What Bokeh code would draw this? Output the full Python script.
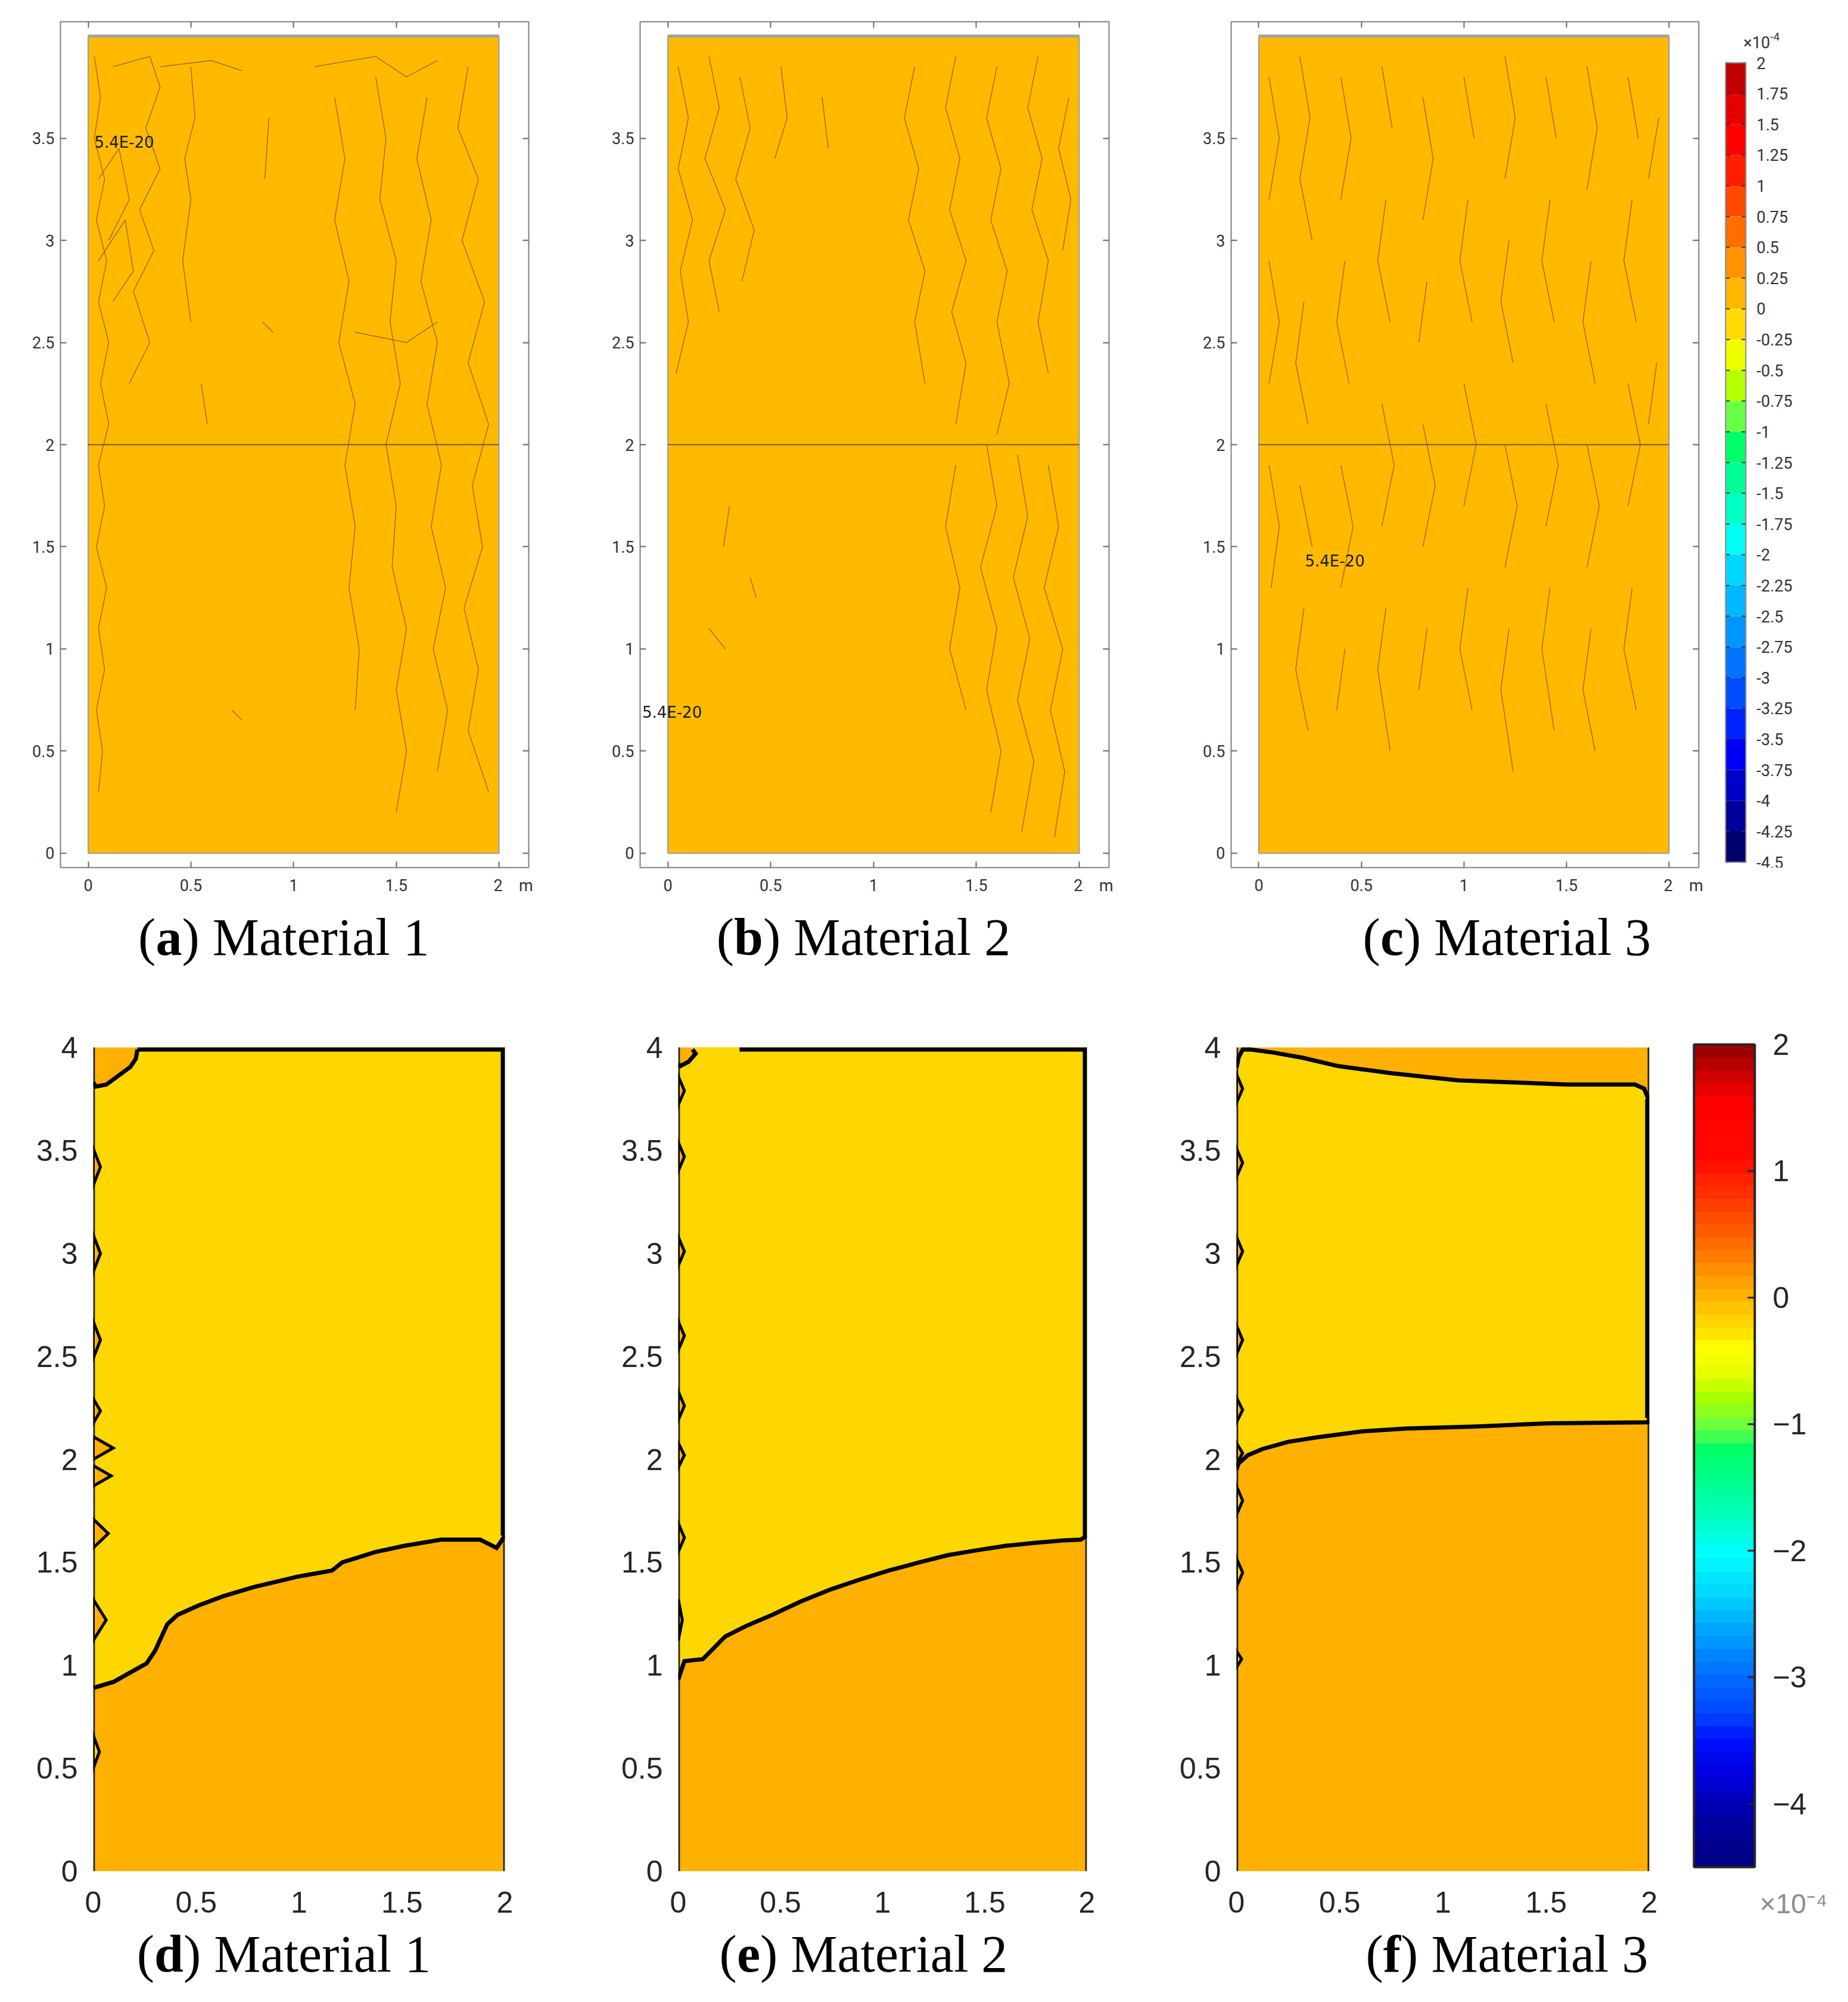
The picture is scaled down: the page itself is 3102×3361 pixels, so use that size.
import numpy as np
from bokeh.plotting import figure
from bokeh.layouts import column, row
from bokeh.models import Range1d, NumeralTickFormatter, CustomJSTickFormatter, LinearAxis, FixedTicker
from bokeh.embed import file_html
from bokeh.resources import INLINE
from bokeh.core.properties import value

# ---------------- data ----------------
x_ticks = [0, 0.5, 1, 1.5, 2]
y_ticks_top = [0, 0.5, 1, 1.5, 2, 2.5, 3, 3.5]
y_ticks_bot = [0, 0.5, 1, 1.5, 2, 2.5, 3, 3.5, 4]
x_unit = "m"
domain_x = [0.0, 2.0]
domain_y = [0.0, 4.0]
interface_y = 2.0

caption_letters_top = ["a", "b", "c"]
caption_letters_bot = ["d", "e", "f"]
caption_names = ["Material 1", "Material 2", "Material 3"]

top_value_text = ["5.4E-20", "5.4E-20", "5.4E-20"]
top_value_x = [0.03, -0.125, 0.225]
top_value_y = [3.48, 0.69, 1.43]

# faint iso-lines of the COMSOL plots (approximate traces)
a_frag = [
    [(0.03, 3.9), (0.06, 3.7), (0.03, 3.5), (0.08, 3.3), (0.04, 3.1), (0.09, 2.9), (0.05, 2.7),
     (0.1, 2.5), (0.06, 2.3), (0.1, 2.1), (0.05, 1.9), (0.08, 1.7), (0.04, 1.5), (0.09, 1.3),
     (0.05, 1.1), (0.08, 0.9), (0.04, 0.7), (0.07, 0.5), (0.05, 0.3)],
    [(0.12, 3.85), (0.3, 3.9), (0.35, 3.75), (0.28, 3.55), (0.35, 3.35), (0.25, 3.15), (0.32, 2.95),
     (0.22, 2.75), (0.3, 2.5), (0.2, 2.3)],
    [(0.05, 3.3), (0.15, 3.45), (0.2, 3.2), (0.1, 3.0)],
    [(0.05, 2.9), (0.18, 3.1), (0.22, 2.85), (0.12, 2.7)],
    [(0.5, 3.85), (0.52, 3.6), (0.47, 3.4), (0.5, 3.2), (0.46, 2.9), (0.5, 2.6)],
    [(0.35, 3.85), (0.6, 3.88), (0.75, 3.83)],
    [(0.88, 3.6), (0.86, 3.3)],
    [(1.1, 3.85), (1.4, 3.9), (1.55, 3.8), (1.7, 3.88)],
    [(1.2, 3.7), (1.25, 3.4), (1.2, 3.1), (1.27, 2.8), (1.22, 2.5), (1.3, 2.2), (1.25, 1.9),
     (1.3, 1.6), (1.27, 1.3), (1.32, 1.0), (1.3, 0.7)],
    [(1.4, 3.8), (1.45, 3.5), (1.42, 3.2), (1.5, 2.9), (1.47, 2.6), (1.52, 2.3), (1.45, 2.0),
     (1.5, 1.7), (1.48, 1.4), (1.55, 1.1), (1.5, 0.8), (1.55, 0.5), (1.5, 0.2)],
    [(1.65, 3.7), (1.6, 3.4), (1.67, 3.1), (1.62, 2.8), (1.7, 2.5), (1.65, 2.2), (1.72, 1.9),
     (1.67, 1.6), (1.74, 1.3), (1.68, 1.0), (1.75, 0.7), (1.7, 0.4)],
    [(1.85, 3.85), (1.8, 3.55), (1.9, 3.3), (1.82, 3.0), (1.93, 2.7), (1.85, 2.4), (1.95, 2.1),
     (1.87, 1.8), (1.92, 1.5), (1.83, 1.2), (1.9, 0.9), (1.85, 0.6), (1.95, 0.3)],
    [(1.3, 2.55), (1.55, 2.5), (1.7, 2.6)],
    [(0.85, 2.6), (0.9, 2.55)],
    [(0.55, 2.3), (0.58, 2.1)],
    [(0.7, 0.7), (0.75, 0.65)],
]
b_frag = [
    [(0.05, 3.85), (0.1, 3.6), (0.05, 3.35), (0.12, 3.1), (0.06, 2.85), (0.1, 2.6), (0.04, 2.35)],
    [(0.2, 3.9), (0.25, 3.65), (0.18, 3.4), (0.28, 3.15), (0.2, 2.9), (0.25, 2.65)],
    [(0.35, 3.8), (0.4, 3.55), (0.33, 3.3), (0.42, 3.05), (0.36, 2.8)],
    [(0.55, 3.85), (0.58, 3.6), (0.52, 3.4)],
    [(0.75, 3.7), (0.78, 3.45)],
    [(1.2, 3.85), (1.15, 3.6), (1.22, 3.35), (1.17, 3.1), (1.25, 2.85), (1.2, 2.6), (1.25, 2.3)],
    [(1.4, 3.9), (1.35, 3.65), (1.42, 3.4), (1.37, 3.15), (1.45, 2.9), (1.38, 2.65), (1.45, 2.4),
     (1.4, 2.1)],
    [(1.6, 3.85), (1.55, 3.6), (1.62, 3.35), (1.57, 3.1), (1.65, 2.85), (1.6, 2.6), (1.66, 2.3),
     (1.6, 2.05)],
    [(1.8, 3.9), (1.75, 3.65), (1.82, 3.4), (1.77, 3.15), (1.85, 2.9), (1.8, 2.6), (1.85, 2.35)],
    [(1.95, 3.7), (1.9, 3.45), (1.96, 3.2), (1.92, 2.95)],
    [(1.4, 1.9), (1.35, 1.6), (1.42, 1.3), (1.37, 1.0), (1.45, 0.7)],
    [(1.55, 2.0), (1.6, 1.7), (1.52, 1.4), (1.6, 1.1), (1.55, 0.8), (1.62, 0.5), (1.57, 0.2)],
    [(1.7, 1.95), (1.75, 1.65), (1.68, 1.35), (1.76, 1.05), (1.7, 0.75), (1.78, 0.45), (1.72, 0.1)],
    [(1.85, 1.9), (1.9, 1.6), (1.83, 1.3), (1.92, 1.0), (1.86, 0.7), (1.93, 0.4), (1.88, 0.08)],
    [(0.3, 1.7), (0.27, 1.5)],
    [(0.2, 1.1), (0.28, 1.0)],
    [(0.4, 1.35), (0.43, 1.25)],
]
c_frag = [
    [(0.05, 3.8), (0.1, 3.5), (0.05, 3.2)], [(0.05, 2.9), (0.1, 2.6), (0.05, 2.3)],
    [(0.05, 1.9), (0.1, 1.6), (0.06, 1.3)],
    [(0.2, 3.9), (0.25, 3.6), (0.2, 3.3), (0.26, 3.0)], [(0.22, 2.7), (0.18, 2.4), (0.24, 2.1)],
    [(0.2, 1.8), (0.26, 1.5)], [(0.22, 1.2), (0.18, 0.9), (0.24, 0.6)],
    [(0.4, 3.8), (0.45, 3.5), (0.4, 3.2)], [(0.42, 2.9), (0.38, 2.6), (0.44, 2.3)],
    [(0.4, 1.9), (0.46, 1.6), (0.4, 1.3)], [(0.42, 1.0), (0.38, 0.7)],
    [(0.6, 3.85), (0.65, 3.55)], [(0.62, 3.2), (0.58, 2.9), (0.64, 2.6)],
    [(0.6, 2.2), (0.66, 1.9), (0.6, 1.6)], [(0.62, 1.2), (0.58, 0.9), (0.64, 0.5)],
    [(0.8, 3.7), (0.85, 3.4), (0.8, 3.1)], [(0.82, 2.8), (0.78, 2.5)],
    [(0.8, 2.1), (0.86, 1.8), (0.8, 1.5)], [(0.82, 1.1), (0.78, 0.8)],
    [(1.0, 3.8), (1.05, 3.5)], [(1.02, 3.2), (0.98, 2.9), (1.04, 2.6)],
    [(1.0, 2.3), (1.06, 2.0), (1.0, 1.7)], [(1.02, 1.3), (0.98, 1.0), (1.04, 0.7)],
    [(1.2, 3.9), (1.25, 3.6), (1.2, 3.3)], [(1.22, 3.0), (1.18, 2.7), (1.24, 2.4)],
    [(1.2, 2.0), (1.26, 1.7), (1.2, 1.4)], [(1.22, 1.1), (1.18, 0.8), (1.24, 0.4)],
    [(1.4, 3.8), (1.45, 3.5)], [(1.42, 3.2), (1.38, 2.9), (1.44, 2.6)],
    [(1.4, 2.2), (1.46, 1.9), (1.4, 1.6)], [(1.42, 1.3), (1.38, 1.0), (1.44, 0.6)],
    [(1.6, 3.85), (1.65, 3.55), (1.6, 3.25)], [(1.62, 2.9), (1.58, 2.6), (1.64, 2.3)],
    [(1.6, 2.0), (1.66, 1.7), (1.6, 1.4)], [(1.62, 1.1), (1.58, 0.8), (1.64, 0.5)],
    [(1.8, 3.8), (1.85, 3.5)], [(1.82, 3.2), (1.78, 2.9), (1.84, 2.6)],
    [(1.8, 2.3), (1.86, 2.0), (1.8, 1.7)], [(1.82, 1.3), (1.78, 1.0), (1.84, 0.7)],
    [(1.95, 3.6), (1.9, 3.3)], [(1.94, 2.4), (1.9, 2.1)],
]

cb_top_levels = [2, 1.75, 1.5, 1.25, 1, 0.75, 0.5, 0.25, 0, -0.25, -0.5, -0.75, -1, -1.25,
                 -1.5, -1.75, -2, -2.25, -2.5, -2.75, -3, -3.25, -3.5, -3.75, -4, -4.25, -4.5]
cb_top_labels = ["2", "1.75", "1.5", "1.25", "1", "0.75", "0.5", "0.25", "0", "-0.25", "-0.5",
                 "-0.75", "-1", "-1.25", "-1.5", "-1.75", "-2", "-2.25", "-2.5", "-2.75", "-3",
                 "-3.25", "-3.5", "-3.75", "-4", "-4.25", "-4.5"]
cb_top_colors = ["#C00000", "#E50000", "#FF0000", "#FF1E00", "#FF4800", "#FF6C00", "#FF9400",
                 "#FFB700", "#FFDA00", "#F0FF00", "#B5FF00", "#6AFF45", "#00FF6A", "#00FF97",
                 "#00FFC5", "#00FFF4", "#00D8FF", "#00B8FF", "#0096FF", "#0074FF", "#004CFF",
                 "#0024FF", "#0000F4", "#0000C8", "#00009A", "#00006E"]

cb_bot_label_vals = [2, 1, 0, -1, -2, -3, -4]
cb_bot_labels = ["2", "1", "0", "\u22121", "\u22122", "\u22123", "\u22124"]
cb_bot_tick_vals = [1, 0, -1, -2, -3, -4]
cb_bot_range = [-4.5, 2.0]
cb_bot_nlevels = 64
cb_bot_anchor_vals = [2.0, 1.55, 1.1, 0.75, 0.5, 0.3, 0.13, 0.0, -0.13, -0.27, -0.4, -0.63, -0.81,
                      -0.95, -1.08, -1.17, -1.48, -1.8, -2.02, -2.33, -2.65, -2.96, -3.27, -3.5,
                      -3.76, -4.12, -4.5]
cb_bot_anchor_cols = ["#900000", "#FF0000", "#FF0800", "#FF3C00", "#FF6000", "#FF8000", "#FFA000",
                      "#FFB400", "#FFCC00", "#FFE000", "#FFFF00", "#E0FF00", "#A0FF00", "#80FF30",
                      "#50FF50", "#00FF60", "#00FF90", "#00FFCC", "#00FFFF", "#00D8FF", "#00A0FF",
                      "#0070FF", "#0048FF", "#0010FF", "#0000E0", "#0000A0", "#000080"]

# (d) Material 1
d_lower_x = [0.0, 0.10, 0.18, 0.26, 0.30, 0.36, 0.41, 0.51, 0.63, 0.78, 0.99, 1.16, 1.21, 1.37,
             1.51, 1.69, 1.88, 1.96, 2.0]
d_lower_y = [0.89, 0.92, 0.965, 1.01, 1.07, 1.20, 1.245, 1.29, 1.335, 1.38, 1.43, 1.46, 1.50, 1.55,
             1.58, 1.61, 1.61, 1.57, 1.63]
d_corner_x = [0.215, 0.207, 0.18, 0.064, 0.013, 0.0]
d_corner_y = [4.0, 3.945, 3.905, 3.82, 3.81, 3.83]
d_bump_y = [3.42, 3.0, 2.58, 2.235, 2.055, 1.92, 1.64, 1.22, 0.58]
d_bump_w = [0.035, 0.035, 0.035, 0.035, 0.097, 0.087, 0.073, 0.063, 0.03]
d_bump_h = [0.09, 0.09, 0.09, 0.06, 0.055, 0.05, 0.07, 0.10, 0.08]
d_bump_inside = ["o", "o", "o", "o", "o", "o", "o", "o", "y"]

# (e) Material 2
e_lower_x = [0.0, 0.03, 0.12, 0.17, 0.23, 0.33, 0.46, 0.60, 0.75, 0.90, 1.03, 1.18, 1.32, 1.47,
             1.60, 1.75, 1.89, 1.97, 2.0]
e_lower_y = [0.93, 1.02, 1.03, 1.08, 1.14, 1.19, 1.245, 1.31, 1.37, 1.42, 1.46, 1.50, 1.535, 1.56,
             1.58, 1.595, 1.607, 1.61, 1.63]
e_corner_x = [0.07, 0.085, 0.05, 0.01, 0.0]
e_corner_y = [4.0, 3.97, 3.93, 3.91, 3.92]
e_topline_x0 = 0.30
e_bump_y = [3.79, 3.47, 3.01, 2.60, 2.26, 2.02, 1.62, 1.22]
e_bump_w = [0.03, 0.03, 0.03, 0.03, 0.03, 0.03, 0.03, 0.02]
e_bump_h = [0.07, 0.07, 0.07, 0.07, 0.07, 0.06, 0.07, 0.10]
e_bump_inside = ["o", "o", "o", "o", "o", "o", "o", "o"]

# (f) Material 3
f_top_x = [0.0, 0.01, 0.03, 0.07, 0.18, 0.32, 0.49, 0.75, 1.075, 1.35, 1.6, 1.93, 1.975, 1.995]
f_top_y = [3.90, 3.95, 4.0, 3.995, 3.975, 3.95, 3.91, 3.875, 3.84, 3.83, 3.82, 3.82, 3.80, 3.75]
f_mid_x = [0.0, 0.01, 0.055, 0.125, 0.25, 0.39, 0.61, 0.82, 1.17, 1.51, 1.995, 2.0]
f_mid_y = [1.95, 1.98, 2.02, 2.05, 2.085, 2.107, 2.136, 2.15, 2.16, 2.175, 2.18, 2.2]
f_bump_y = [3.80, 3.44, 3.01, 2.58, 2.24, 2.03, 1.80, 1.45, 1.03]
f_bump_w = [0.03, 0.03, 0.03, 0.03, 0.03, 0.03, 0.03, 0.03, 0.025]
f_bump_h = [0.07, 0.07, 0.07, 0.07, 0.06, 0.05, 0.07, 0.07, 0.04]
f_bump_inside = ["o", "o", "o", "o", "o", "o", "y", "y", "y"]

# ---------------- style ----------------
ORANGE_TOP = "#FFBA00"
ORANGE = "#FFB000"
YELLOW = "#FFD700"
SANS = "Liberation Sans"
SERIF = "Liberation Serif"
COMSOL_FONT = "Roboto"


def hex2rgb(h):
    return np.array([int(h[i:i + 2], 16) for i in (1, 3, 5)], dtype=float)


def interp_color(v):
    vals = np.array(cb_bot_anchor_vals[::-1])
    cols = np.array([hex2rgb(c) for c in cb_bot_anchor_cols[::-1]])
    rgb = [np.interp(v, vals, cols[:, k]) for k in range(3)]
    return "#%02X%02X%02X" % tuple(int(round(c)) for c in rgb)


def base_fig(w, h, xr, yr, **kw):
    p = figure(width=w, height=h, x_range=xr, y_range=yr, output_backend="svg",
               toolbar_location=None, title=None, **kw)
    p.grid.visible = False
    p.background_fill_color = "white"
    p.border_fill_color = "white"
    return p


# ---------------- layout constants (pixels, page has no margin) ----------------
ROW1_H, ROW1_TOP, ROW1_BOT = 1512, 36, 56          # frame 36 -> 1456
CAP1_H, CAP1_CY = 138, 61                          # caption centre at page y 1573
ROW2_TOP_PAGE = 1650
ROW2_TOP, ROW2_BOT = 60, 85                        # panel y=4 at page 1758, y=0 at 3141
ROW2_H = 3141 + ROW2_BOT - ROW2_TOP_PAGE
CAP2_H, CAP2_CY = 3356 - (3141 + ROW2_BOT), 3280 - (3141 + ROW2_BOT)
BOT_PPU = 345.75
PANEL_Y4_LOCAL = 108


# ---------------- top (COMSOL-like) panels ----------------
def top_panel(w, left, right, idx, frags):
    p = base_fig(w, ROW1_H, Range1d(-0.135, 2.145), Range1d(-0.07, 4.07),
                 min_border_left=left, min_border_right=right,
                 min_border_top=ROW1_TOP, min_border_bottom=ROW1_BOT)
    p.outline_line_color = "#808080"
    p.outline_line_width = 2
    bx = p.xaxis[0]
    ly = p.yaxis[0]
    p.quad(left=[domain_x[0]], right=[domain_x[1]], bottom=[domain_y[0]], top=[domain_y[1]],
           fill_color=ORANGE_TOP, line_color="#9b9b9b", line_width=2)
    p.multi_line([[pt[0] for pt in f] for f in frags], [[pt[1] for pt in f] for f in frags],
                 line_color="#9a6b00", line_width=1.6, line_alpha=0.9)
    p.line(domain_x, [domain_y[1], domain_y[1]], line_color="#a3a3a3", line_width=5)
    p.line(domain_x, [interface_y, interface_y], line_color="#6f5c2a", line_width=2)
    p.text(x=[top_value_x[idx]], y=[top_value_y[idx]], text=[top_value_text[idx]],
           text_font=value("DejaVu Sans"), text_font_size="26px", text_color="#1a1a1a",
           text_baseline="middle", text_align="left")
    bx.ticker = FixedTicker(ticks=x_ticks)
    ly.ticker = FixedTicker(ticks=y_ticks_top)
    bx.formatter = NumeralTickFormatter(format="0.[00]")
    ly.formatter = NumeralTickFormatter(format="0.[00]")
    # unit shown after the last tick label, the "2" stays centred on its tick
    bx.major_label_overrides = {2.0: "\u2003\u2002\u2005" + "2" + "\u2003" + x_unit}
    top_ax = LinearAxis(ticker=FixedTicker(ticks=x_ticks),
                        formatter=CustomJSTickFormatter(code="return ''"), major_label_standoff=0)
    right_ax = LinearAxis(ticker=FixedTicker(ticks=y_ticks_top),
                          formatter=CustomJSTickFormatter(code="return ''"), major_label_standoff=0)
    p.add_layout(top_ax, "above")
    p.add_layout(right_ax, "right")
    for ax in [bx, ly, top_ax, right_ax]:
        ax.axis_line_color = None
        ax.major_tick_in = 10
        ax.major_tick_out = 0
        ax.major_tick_line_color = "#666666"
        ax.major_tick_line_width = 2
        ax.minor_tick_line_color = None
        ax.major_label_text_font = COMSOL_FONT
        ax.major_label_text_font_size = "27px"
        ax.major_label_text_color = "#333333"
    bx.major_label_standoff = 14
    ly.major_label_standoff = 10
    return p


# ---------------- bottom (MATLAB-like) panels ----------------
def bumps(p, ys, ws, hs, inside):
    xs_l, ys_l, cols = [], [], []
    for yc, w, h, k in zip(ys, ws, hs, inside):
        xs_l.append([0.0, w, 0.0])
        ys_l.append([yc - h, yc, yc + h])
        cols.append(ORANGE if k == "o" else YELLOW)
    p.patches(xs_l, ys_l, fill_color=cols, line_color="black", line_width=5, line_join="miter")


def bottom_panel(w, left, right):
    y_top = domain_y[1] + (PANEL_Y4_LOCAL - ROW2_TOP) / BOT_PPU
    p = base_fig(w, ROW2_H, Range1d(domain_x[0], domain_x[1]), Range1d(domain_y[0], y_top),
                 min_border_left=left, min_border_right=right,
                 min_border_top=ROW2_TOP, min_border_bottom=ROW2_BOT)
    p.outline_line_color = None
    p.quad(left=[domain_x[0]], right=[domain_x[1]], bottom=[domain_y[0]], top=[domain_y[1]],
           fill_color=ORANGE, line_color=None)
    p.xaxis.ticker = FixedTicker(ticks=x_ticks)
    p.yaxis.ticker = FixedTicker(ticks=y_ticks_bot)
    p.xaxis.formatter = NumeralTickFormatter(format="0.[0]")
    p.yaxis.formatter = NumeralTickFormatter(format="0.[0]")
    for ax in [p.xaxis[0], p.yaxis[0]]:
        ax.axis_line_color = None
        ax.major_tick_line_color = None
        ax.major_tick_in = 0
        ax.major_tick_out = 0
        ax.minor_tick_line_color = None
        ax.minor_tick_in = 0
        ax.minor_tick_out = 0
        ax.major_label_text_font = SANS
        ax.major_label_text_font_size = "50px"
        ax.major_label_text_color = "#262626"
    p.xaxis[0].major_label_standoff = 34
    p.yaxis[0].major_label_standoff = 26
    return p


def edges(p):
    e = 0.004
    p.multi_line([[domain_x[0] + e, domain_x[0] + e], [domain_x[1] - e, domain_x[1] - e]],
                 [[domain_y[0], domain_y[1]], [domain_y[0], domain_y[1]]],
                 line_color="#222222", line_width=3)


IN = 0.01  # keep the thick boundary contours inside the frame

fd = bottom_panel(990, 156, 143)
fd.patch(d_lower_x + [domain_x[1]] + d_corner_x, d_lower_y + [domain_y[1]] + d_corner_y,
         fill_color=YELLOW, line_color=None)
edges(fd)
fd.multi_line([d_lower_x, [domain_x[1] - IN, domain_x[1] - IN, d_corner_x[0]], d_corner_x],
              [d_lower_y, [d_lower_y[-1], domain_y[1] - IN, domain_y[1] - IN],
               [min(v, domain_y[1] - IN) for v in d_corner_y]],
              line_color="black", line_width=7, line_join="miter")
bumps(fd, d_bump_y, d_bump_w, d_bump_h, d_bump_inside)

fe = bottom_panel(940, 148, 106)
fe.patch(e_lower_x + [domain_x[1]] + e_corner_x, e_lower_y + [domain_y[1]] + e_corner_y,
         fill_color=YELLOW, line_color=None)
edges(fe)
fe.multi_line([e_lower_x, [domain_x[1] - IN, domain_x[1] - IN, e_topline_x0], e_corner_x],
              [e_lower_y, [e_lower_y[-1], domain_y[1] - IN, domain_y[1] - IN],
               [min(v, domain_y[1] - IN) for v in e_corner_y]],
              line_color="black", line_width=7, line_join="miter")
bumps(fe, e_bump_y, e_bump_w, e_bump_h, e_bump_inside)

ff = bottom_panel(870, 145, 32)
ff.patch(f_mid_x + f_top_x[::-1], f_mid_y + f_top_y[::-1], fill_color=YELLOW, line_color=None)
edges(ff)
ff.multi_line([f_mid_x, [domain_x[1] - IN, domain_x[1] - IN], f_top_x],
              [f_mid_y, [f_mid_y[-1], f_top_y[-1]],
               [min(v, domain_y[1] - IN) for v in f_top_y]],
              line_color="black", line_width=7, line_join="miter")
bumps(ff, f_bump_y, f_bump_w, f_bump_h, f_bump_inside)

fa = top_panel(990, 101, 103, 0, a_frag)
fb = top_panel(990, 84, 119, 1, b_frag)
fc = top_panel(890, 86, 19, 2, c_frag)


# ---------------- colour bars ----------------
def cb_top():
    W, H = 224, ROW1_H
    ftop, fbot = ROW1_TOP, H - ROW1_BOT          # frame aligned with the row
    top_px, bot_px = 105, 1447
    lo, hi = cb_top_levels[-1], cb_top_levels[0]
    ppu = (bot_px - top_px) / (hi - lo)
    p = base_fig(W, H, Range1d(0, W), Range1d(lo - (fbot - bot_px) / ppu, hi + (top_px - ftop) / ppu),
                 min_border=0, x_axis_location=None, y_axis_location=None)
    p.outline_line_color = None
    x0, x1 = 26, 60
    p.quad(left=x0, right=x1, bottom=cb_top_levels[1:], top=cb_top_levels[:-1],
           fill_color=cb_top_colors, line_color=None)
    p.segment(x0=x0, x1=x0 + 7, y0=cb_top_levels, y1=cb_top_levels, line_color="#333333",
              line_width=2)
    p.segment(x0=x1 - 7, x1=x1, y0=cb_top_levels, y1=cb_top_levels, line_color="#333333",
              line_width=2)
    p.quad(left=[x0], right=[x1], bottom=[lo], top=[hi], fill_color=None, line_color="#8a8a8a",
           line_width=2)
    p.text(x=78, y=cb_top_levels, text=cb_top_labels, text_font=value(COMSOL_FONT),
           text_font_size="27px", text_color="#333333", text_baseline="middle", text_align="left")
    p.text(x=[56], y=[hi + (top_px - 71) / ppu], text=["\u00d710"], text_font=value(COMSOL_FONT),
           text_font_size="27px", text_color="#333333", text_baseline="middle")
    p.text(x=[101], y=[hi + (top_px - 61) / ppu], text=["-4"], text_font=value(COMSOL_FONT),
           text_font_size="19px", text_color="#333333", text_baseline="middle")
    return p


def cb_bot():
    W, H = 294, ROW2_H
    ftop, fbot = ROW2_TOP, H - ROW2_BOT
    top_px, bot_px = 1753 - ROW2_TOP_PAGE, 3134 - ROW2_TOP_PAGE
    lo, hi = cb_bot_range
    ppu = (bot_px - top_px) / (hi - lo)
    p = base_fig(W, H, Range1d(0, W), Range1d(lo - (fbot - bot_px) / ppu, hi + (top_px - ftop) / ppu),
                 min_border=0, y_axis_location=None)
    p.outline_line_color = None
    x0, x1 = 43, 145
    edges_v = np.linspace(lo, hi, cb_bot_nlevels + 1)
    mids = 0.5 * (edges_v[:-1] + edges_v[1:])
    cols = [interp_color(v) for v in mids]
    p.quad(left=x0, right=x1, bottom=edges_v[:-1], top=edges_v[1:], fill_color=cols,
           line_color=cols, line_width=1)
    p.segment(x0=x1 - 12, x1=x1, y0=cb_bot_tick_vals, y1=cb_bot_tick_vals,
              line_color="#262626", line_width=3)
    p.quad(left=[x0], right=[x1], bottom=[lo], top=[hi], fill_color=None, line_color="#262626",
           line_width=4)
    p.text(x=175, y=cb_bot_label_vals, text=cb_bot_labels, text_font=value(SANS),
           text_font_size="50px", text_color="#262626", text_baseline="middle", text_align="left")
    # exponent of the colour scale, shown as the label of a bare axis under the bar
    ax = p.xaxis[0]
    ax.ticker = FixedTicker(ticks=[])
    ax.axis_line_color = None
    ax.major_tick_out = 0
    ax.major_tick_in = 0
    ax.minor_tick_out = 0
    ax.minor_tick_in = 0
    ax.major_label_standoff = 0
    ax.axis_label = "\u2003\u2003\u2002\u2005\u00d710\u207b\u2074"
    ax.axis_label_standoff = 28
    ax.axis_label_text_font = SANS
    ax.axis_label_text_font_size = "46px"
    ax.axis_label_text_font_style = "normal"
    ax.axis_label_text_color = "#8c8c8c"
    return p


# ---------------- captions ----------------
BOLD_W = {"a": 0.5, "b": 0.556, "c": 0.444, "d": 0.556, "e": 0.444, "f": 0.333}


def caption_fig(H, letters, cy_from_top):
    W = 3094
    p = base_fig(W, H, Range1d(0, W), Range1d(0, H), min_border=0,
                 x_axis_location=None, y_axis_location=None)
    p.outline_line_color = None
    fs = 88
    centers = [476, 1449, 2529]
    y = H - cy_from_top
    for cx, let, name in zip(centers, letters, caption_names):
        total = (0.333 + BOLD_W[let] + 4.721) * fs
        lx = cx - total / 2 + 0.333 * fs
        p.text(x=[lx], y=[y], text=["("], text_font=value(SERIF), text_font_size=f"{fs}px",
               text_align="right", text_baseline="middle", text_color="black")
        p.text(x=[lx], y=[y], text=[let], text_font=value(SERIF), text_font_size=f"{fs}px",
               text_font_style="bold", text_align="left", text_baseline="middle",
               text_color="black")
        p.text(x=[lx + BOLD_W[let] * fs], y=[y], text=[") " + name], text_font=value(SERIF),
               text_font_size=f"{fs}px", text_align="left", text_baseline="middle",
               text_color="black")
    return p


cap1 = caption_fig(CAP1_H, caption_letters_top, CAP1_CY)
cap2 = caption_fig(CAP2_H, caption_letters_bot, CAP2_CY)

layout = column(row(fa, fb, fc, cb_top()), cap1, row(fd, fe, ff, cb_bot()), cap2)

open("out.html", "w").write(file_html(layout, INLINE))
